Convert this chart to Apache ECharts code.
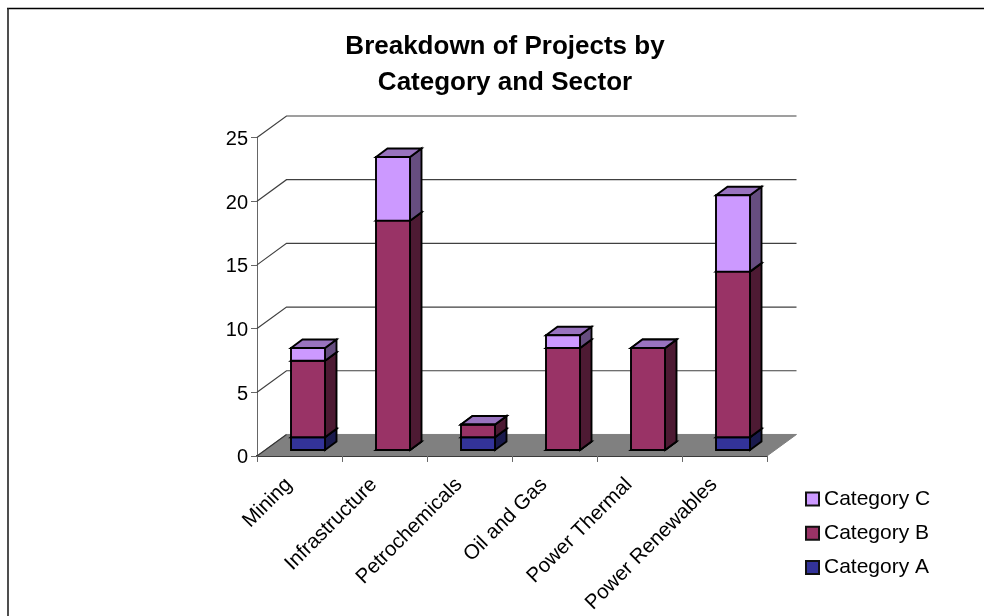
<!DOCTYPE html>
<html><head><meta charset="utf-8">
<style>html,body{margin:0;padding:0;background:#fff}#c{width:984px;height:616px}</style>
<script src="https://cdn.jsdelivr.net/npm/echarts@6/dist/echarts.min.js"></script>
</head><body><div id="c"></div>
<script>
const categories = ['Mining','Infrastructure','Petrochemicals','Oil and Gas','Power Thermal','Power Renewables'];
const categoryA = [1,0,1,0,0,1];
const categoryB = [6,18,1,8,8,13];
const categoryC = [1,5,0,1,0,6];
const yTicks = [0,5,10,15,20,25];

const FONT = '"Liberation Sans", Arial, sans-serif';
const WALL = {dx:29.5, dy:-21.5};
const BAR = {dx:11.5, dy:-8.5, shiftX:8.5, shiftY:-6, width:34};
const chart = echarts.init(document.getElementById('c'), null, {renderer:'canvas'});

function stackSeries(name, values, below, front, side, top){
  return {
    type:'custom', name, coordinateSystem:'cartesian2d', z:5,
    itemStyle:{color:front, borderColor:'#111', borderWidth:1.2},
    data: values.map((v,i)=>[i, below[i], below[i]+v]),
    encode:{x:0,y:[1,2]},
    renderItem(params, api){
      const a = api.coord([api.value(0), api.value(1)]);
      const b = api.coord([api.value(0), api.value(2)]);
      const l = a[0]+BAR.shiftX-BAR.width/2, r = l+BAR.width;
      const y0 = a[1]+BAR.shiftY, y1 = b[1]+BAR.shiftY;
      const st = c=>({fill:c, stroke:'#000', lineWidth:1.9, lineJoin:'miter'});
      return {type:'group', children:[
        {type:'polygon', shape:{points:[[r,y0],[r+BAR.dx,y0+BAR.dy],[r+BAR.dx,y1+BAR.dy],[r,y1]]}, style:st(side)},
        {type:'polygon', shape:{points:[[l,y1],[r,y1],[r+BAR.dx,y1+BAR.dy],[l+BAR.dx,y1+BAR.dy]]}, style:st(top)},
        {type:'polygon', shape:{points:[[l,y0],[r,y0],[r,y1],[l,y1]]}, style:st(front)}
      ]};
    }
  };
}
const zeros = categories.map(()=>0);
const belowB = categoryA.slice();
const belowC = categoryA.map((v,i)=>v+categoryB[i]);

const wallSeries = {
  type:'custom', coordinateSystem:'cartesian2d', silent:true, z:1,
  data: yTicks.map(v=>[0,v]), encode:{x:0,y:1},
  renderItem(params, api){
    const v = api.value(1);
    const w = api.size([1,0])[0];
    const p = api.coord([0,v]);
    const x0 = p[0]-w/2, x1 = x0+w*categories.length, y = p[1];
    if(v===0){
      return {type:'group', children:[
        {type:'polygon', shape:{points:[[x0,y],[x1,y],[x1+WALL.dx,y+WALL.dy],[x0+WALL.dx,y+WALL.dy]]},
          style:{fill:'#808080', stroke:'#808080', lineWidth:1}},
        {type:'line', shape:{x1:x0,y1:y,x2:x0+WALL.dx,y2:y+WALL.dy}, style:{stroke:'#333', lineWidth:1.1}}
      ]};
    }
    return {type:'polyline', shape:{points:[[x0,y],[x0+WALL.dx,y+WALL.dy],[x1+WALL.dx,y+WALL.dy]]},
      style:{fill:null, stroke:'#404040', lineWidth:1.2}};
  }
};

chart.setOption({
  animation:false,
  backgroundColor:'#fff',
  title:{
    text:'Breakdown of Projects by\nCategory and Sector', left:500, top:24, textAlign:'center',
    textStyle:{fontFamily:FONT, fontSize:26, fontWeight:'bold', color:'#000', lineHeight:36}
  },
  legend:{
    orient:'vertical', left:805, top:487, padding:0, itemGap:10.3, itemWidth:13, itemHeight:13, icon:'rect',
    data:['Category C','Category B','Category A'], selectedMode:false,
    textStyle:{fontFamily:FONT, fontSize:21, color:'#000', lineHeight:24}
  },
  grid:{left:257, width:510, top:137.5, height:320},
  xAxis:{
    type:'category', data:categories, boundaryGap:true,
    axisLine:{lineStyle:{color:'#000', width:2}},
    axisTick:{show:true, alignWithLabel:false, length:6, lineStyle:{color:'#666', width:1}},
    axisLabel:{rotate:45, interval:0, fontFamily:FONT, fontSize:20.5, color:'#000', margin:15, padding:[0,15,0,0]}
  },
  yAxis:{
    type:'value', min:0, max:25, interval:5,
    splitLine:{show:false},
    axisLine:{show:true, lineStyle:{color:'#666', width:1}},
    axisTick:{show:true, length:6, lineStyle:{color:'#666', width:1}},
    axisLabel:{fontFamily:FONT, fontSize:20, color:'#000', margin:9,
      formatter:'{n|{value}}',
      rich:{n:{fontFamily:FONT, fontSize:20, color:'#000', lineHeight:22, padding:[4,0,0,0]}}}
  },
  series:[
    wallSeries,
    stackSeries('Category A', categoryA, zeros, '#333399', '#1a1a4d', '#262673'),
    stackSeries('Category B', categoryB, belowB, '#993366', '#4d1a33', '#73264d'),
    stackSeries('Category C', categoryC, belowC, '#CC99FF', '#664d80', '#9973bf')
  ],
  graphic:[
    {type:'line', silent:true, z:-1, shape:{x1:7,y1:8.5,x2:984,y2:8.5}, style:{stroke:'#000', lineWidth:1.6}},
    {type:'line', silent:true, z:-1, shape:{x1:8,y1:8,x2:8,y2:616}, style:{stroke:'#222', lineWidth:1.6}}
  ]
});
</script></body></html>
